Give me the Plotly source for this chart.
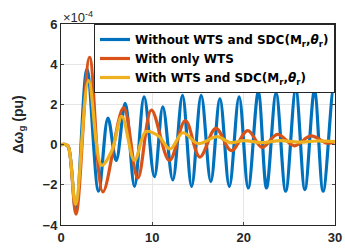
import plotly.graph_objects as go

# time (s) and Δω_g (×1e-4 pu) (extrema + start)
t_blue = [0, 0.5, 0.8, 1.62, 2.84, 4.11, 5.14, 6.04, 7.03, 8.05, 9.1, 10.23, 11.15, 12.24,
          13.3, 14.3, 15.35, 16.4, 17.4, 18.43, 19.5, 20.5, 21.6, 22.5, 23.55, 24.6, 25.7,
          26.7, 27.75, 28.7, 29.85, 30]
y_blue = [0, 0, -0.1, -3.25, 3.75, -2.32, 1.32, -0.79, 2.05, -2.08, 2.37, -1.6, 1.88, -1.76,
          2.45, -2.08, 2.45, -1.84, 2.29, -2.08, 2.37, -2.16, 2.61, -2.16, 2.55, -2.32, 2.75,
          -2.24, 2.69, -2.32, 2.85, 2.7]

t_orange = [0, 0.5, 0.8, 1.64, 3.13, 4.59, 6.85, 8.41, 9.9, 11.87, 13.62, 15.2, 16.95, 18.65,
            20.45, 22.0, 23.7, 25.55, 27.35, 29.15, 30]
y_orange = [0, 0, -0.1, -3.46, 4.34, -2.35, 1.84, -1.67, 1.72, -0.79, 1.2, -0.62, 0.81, -0.3,
            0.7, -0.14, 0.51, -0.06, 0.43, 0.07, 0.15]

t_yellow = [0, 0.5, 0.8, 1.6, 3.02, 4.45, 5.57, 6.66, 8.05, 9.3, 10.67, 11.95, 13.35, 15.0,
            17.1, 18.5, 20.0, 22.0, 24.0, 26.0, 28.0, 30]
y_yellow = [0, 0, -0.1, -2.97, 3.18, -1.03, -0.3, 1.4, -0.79, 0.65, 0.43, -0.22, 0.59, 0.05,
            0.4, 0.1, 0.2, 0.1, 0.2, 0.12, 0.18, 0.15]

names = ["Without WTS and SDC(M<sub>r</sub>,<i>θ</i><sub>r</sub>)",
         "With only WTS",
         "With WTS and SDC(M<sub>r</sub>,<i>θ</i><sub>r</sub>)"]
colors = ["#0072BD", "#D95319", "#EDB120"]

x_ticks = [0, 10, 20, 30]
y_ticks = [-4, -2, 0, 2, 4, 6]

fig = go.Figure()
for t, y, n, c in [(t_blue, y_blue, names[0], colors[0]),
                   (t_orange, y_orange, names[1], colors[1]),
                   (t_yellow, y_yellow, names[2], colors[2])]:
    fig.add_trace(go.Scatter(x=t, y=y, mode="lines", name=n,
                             line=dict(color=c, width=3.2, shape="spline", smoothing=1.0)))

font = "Liberation Sans, Arial, sans-serif"
fig.update_layout(
    width=345, height=252,
    margin=dict(l=61, r=10, t=24, b=27, autoexpand=False),
    paper_bgcolor="white", plot_bgcolor="white",
    font=dict(family=font, size=13, color="#262626"),
    showlegend=True,
    legend=dict(x=1, xanchor="right", y=1, yanchor="top",
                bgcolor="white", bordercolor="#262626", borderwidth=1,
                font=dict(family="DejaVu Sans, sans-serif", size=12, color="black", weight="bold"),
                tracegroupgap=0, itemwidth=30),
    xaxis=dict(range=[0, 30], tickvals=x_ticks, ticks="inside", ticklen=3,
               showline=True, linecolor="#262626", linewidth=1, mirror="ticks",
               showgrid=True, gridcolor="#E6E6E6", zeroline=False, automargin=False,
               tickfont=dict(size=13, weight="bold", color="#262626")),
    yaxis=dict(range=[-4, 6], tickvals=y_ticks, ticks="inside", ticklen=3,
               showline=True, linecolor="#262626", linewidth=1, mirror="ticks",
               showgrid=True, gridcolor="#E6E6E6", zeroline=False, automargin=False,
               tickfont=dict(size=13, weight="bold", color="#262626")),
    annotations=[
        dict(text="×10<sup>-4</sup>", xref="paper", yref="paper",
             x=0, y=1, xanchor="left", yanchor="bottom", showarrow=False,
             font=dict(family=font, size=13, color="#262626"), yshift=-3),
        dict(text="Δω<sub>g</sub> (pu)", xref="paper", yref="paper",
             x=0, y=0.5, xanchor="center", yanchor="middle", showarrow=False,
             textangle=-90, xshift=-43,
             font=dict(family=font, size=14, color="#262626", weight="bold")),
    ],
)
fig.write_html("out.html", config={"displayModeBar": False},
               post_script="document.body.style.margin='0px';")
